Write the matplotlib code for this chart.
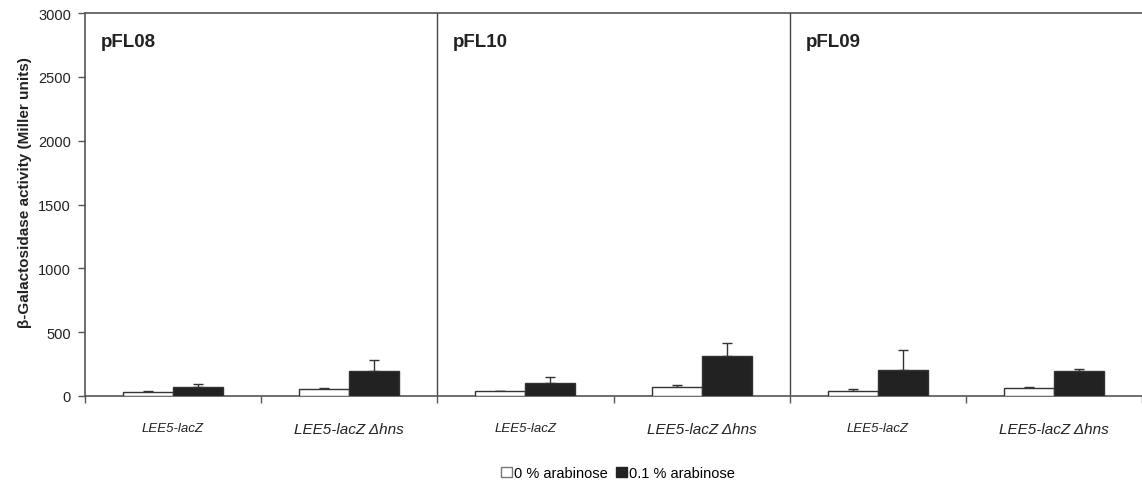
import matplotlib
matplotlib.use("Agg")
import matplotlib.pyplot as plt
from matplotlib.patches import Patch
import numpy as np

plt.rcParams['font.family'] = ['Liberation Sans', 'DejaVu Sans']

categories = ["LEE5-lacZ", "LEE5-lacZ Δhns"] * 3
panels = ["pFL08", "pFL10", "pFL09"]
ara0 = [35, 58, 36, 68, 42, 66]
ara0_err = [7, 8, 6, 15, 16, 4]
ara01 = [73, 197, 105, 316, 201, 199]
ara01_err = [23, 83, 44, 96, 157, 15]
yticks = [0, 500, 1000, 1500, 2000, 2500, 3000]

fig = plt.figure(figsize=(11.42, 4.85), dpi=100)
ax = fig.add_axes([85/1142, 1-397/485, 1-85/1142, (397-14)/485])

x = np.arange(len(categories)) + 0.5
w = 0.284
axc = "#555555"
ax.bar(x - w/2, ara0, w, color="white", edgecolor="#333333", linewidth=1.0, zorder=3)
ax.bar(x + w/2, ara01, w, color="#222222", edgecolor="#333333", linewidth=1.0, zorder=3)
ax.errorbar(x - w/2, ara0, yerr=[np.zeros(len(ara0)), ara0_err], fmt="none",
            ecolor="#333333", elinewidth=1.0, capsize=3.5, capthick=1.0, zorder=2)
ax.errorbar(x + w/2, ara01, yerr=[np.zeros(len(ara01)), ara01_err], fmt="none",
            ecolor="#333333", elinewidth=1.0, capsize=3.5, capthick=1.0, zorder=2)

ax.set_xlim(0, 6)
ax.set_ylim(0, 3000)
ax.set_yticks(yticks)
ax.set_yticklabels([str(t) for t in yticks], fontsize=10.5, color="#222222")
ax.tick_params(axis="y", length=5, width=1, color=axc, pad=5)

ax.set_xticks(x)
labels = ax.set_xticklabels(categories, style="italic", color="#222222")
for lab, c in zip(labels, categories):
    lab.set_fontsize(11 if "hns" in c else 9.5)
ax.tick_params(axis="x", which="major", length=0, pad=19)
ax.set_xticks(np.arange(0, 7), minor=True)
ax.tick_params(axis="x", which="minor", length=5, width=1, color=axc)

for s in ["left", "bottom", "top"]:
    ax.spines[s].set_color(axc)
    ax.spines[s].set_linewidth(1.2)
ax.spines["right"].set_visible(False)

for sep in [2, 4]:
    ax.axvline(sep, color="#444444", linewidth=1.0, zorder=1)

for i, p in enumerate(panels):
    ax.text(2*i + 0.09, 2780, p, fontsize=13.5, fontweight="bold", ha="left", va="center", color="#222222")

ax.set_ylabel("β-Galactosidase activity (Miller units)", fontsize=11, fontweight="bold",
              color="#222222")
ax.yaxis.set_label_coords(-(85 - 32) / 1057, 0.535)

handles = [Patch(facecolor="white", edgecolor="#777777", label="0 % arabinose"),
           Patch(facecolor="#222222", edgecolor="#222222", label="0.1 % arabinose")]
fig.legend(handles=handles, loc="center", bbox_to_anchor=(618/1142, 1-474/485), ncol=2,
           frameon=False, fontsize=10.5, handlelength=0.7, handleheight=0.7,
           handletextpad=0.15, columnspacing=0.6)

fig.savefig("out.png", dpi=100)
